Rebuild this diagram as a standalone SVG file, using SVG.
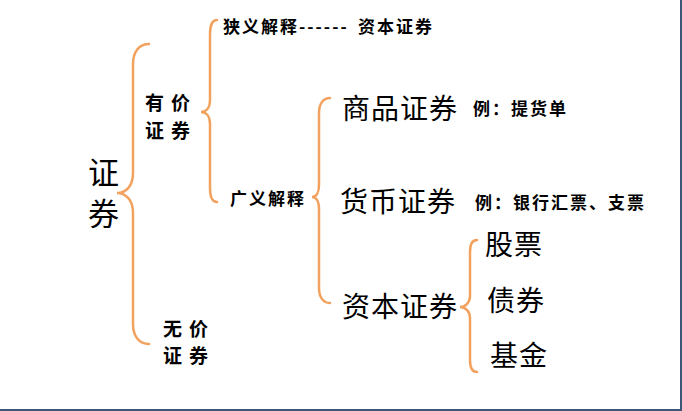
<svg xmlns="http://www.w3.org/2000/svg" width="682" height="411" viewBox="0 0 682 411">
<style>
text{font-family:"Noto Sans CJK SC","Noto Sans",sans-serif;fill:#000;dominant-baseline:central}
.big{font-size:28px;letter-spacing:1px}
.root{font-size:31px}
.mid{font-size:19px;font-weight:bold;letter-spacing:7px}
.sm{font-size:17px;font-weight:bold;letter-spacing:2px}
.brace{fill:none;stroke:#F2A25E;stroke-width:2.5;stroke-linecap:round}
</style>
<rect x="0" y="0" width="682" height="411" fill="#fff"/>
<rect x="680" y="0" width="2" height="411" fill="#3E5779"/>
<rect x="0" y="409" width="682" height="2" fill="#3E5779"/>
<g id="connectors">
<path class="brace" d="M149,44 C139,44 133,52 133,64 L133,173 C133,186 126,193 117,193 C126,193 133,200 133,213 L133,324 C133,336 139,344 149,344"/>
<path class="brace" d="M217,20 C212,20 210,26 210,34 L210,100 C210,108 206,112 201,112 C206,112 210,116 210,124 L210,188 C210,196 212,202 217,202"/>
<path class="brace" d="M330,98 C323,98 319,104 319,113 L319,185 C319,193 316,197 312,197 C316,197 319,201 319,209 L319,288 C319,297 323,303 330,303"/>
<path class="brace" d="M477,240 C472,240 470,245 470,252 L470,296 C470,303 465,307 460,307 C465,307 470,311 470,318 L470,360 C470,367 472,372 477,372"/>
</g>
<g id="root"><text class="root" x="88" y="170">证</text><text class="root" x="88" y="211">券</text></g>
<g id="youjia"><text class="mid" x="145" y="101">有价</text><text class="mid" x="145" y="129">证券</text></g>
<g id="wujia"><text class="mid" x="163" y="327">无价</text><text class="mid" x="163" y="354">证券</text></g>
<g id="narrow"><text class="sm" x="223" y="25">狭义解释------</text><text class="sm" x="358" y="25">资本证券</text></g>
<g id="broad"><text class="sm" x="230" y="197">广义解释</text></g>
<g id="commodity"><text class="big" x="342" y="107">商品证券</text><text class="sm" x="473" y="107">例：提货单</text></g>
<g id="currency"><text class="big" x="340" y="200">货币证券</text><text class="sm" x="475" y="201">例：银行汇票、支票</text></g>
<g id="capital"><text class="big" x="342" y="305">资本证券</text></g>
<g id="stock"><text class="big" x="485" y="243">股票</text></g>
<g id="bond"><text class="big" x="487" y="299">债券</text></g>
<g id="fund"><text class="big" x="490" y="354">基金</text></g>
</svg>
